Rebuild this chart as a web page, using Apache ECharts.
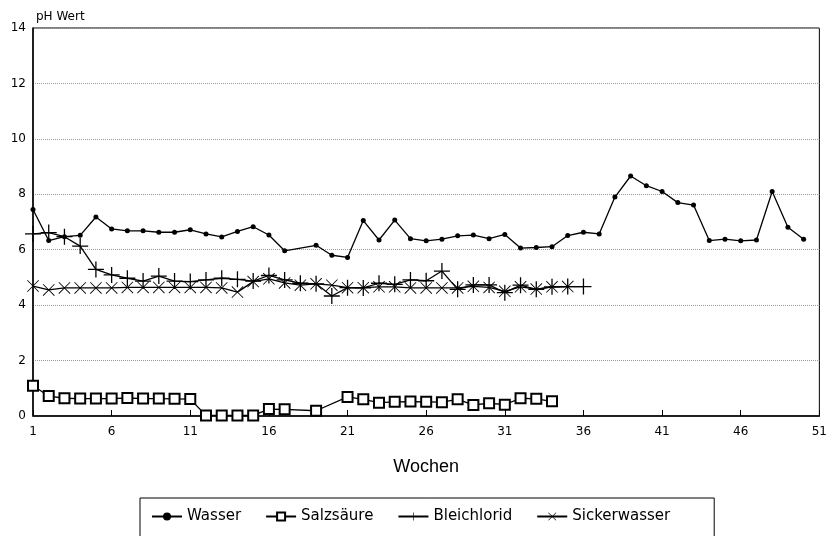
<!DOCTYPE html>
<html>
<head>
<meta charset="utf-8">
<script src="https://cdn.jsdelivr.net/npm/echarts@6.0.0/dist/echarts.min.js"></script>
<style>
html, body { margin: 0; padding: 0; background: #fff; }
#chart { width: 830px; height: 536px; }
</style>
</head>
<body>
<div id="chart"></div>
<script>
'use strict';
// Wochen / pH-Werte je Versuchsreihe
var wasserWochen = [1,2,3,4,5,6,7,8,9,10,11,12,13,14,15,16,17,19,20,21,22,23,24,25,26,27,28,29,30,31,32,33,34,35,36,37,38,39,40,41,42,43,44,45,46,47,48,49,50];
var wasserPh = [7.45,6.33,6.47,6.52,7.18,6.75,6.68,6.68,6.63,6.63,6.72,6.57,6.46,6.66,6.83,6.53,5.96,6.16,5.80,5.72,7.05,6.35,7.07,6.40,6.32,6.38,6.50,6.53,6.40,6.55,6.06,6.08,6.11,6.51,6.63,6.57,7.90,8.66,8.31,8.10,7.70,7.61,6.33,6.38,6.32,6.35,8.10,6.81,6.38];

var salzWochen = [1,2,3,4,5,6,7,8,9,10,11,12,13,14,15,16,17,19,21,22,23,24,25,26,27,28,29,30,31,32,33,34];
var salzPh = [1.09,0.72,0.64,0.63,0.63,0.63,0.65,0.63,0.63,0.62,0.61,0.02,0.02,0.02,0.02,0.25,0.24,0.19,0.69,0.60,0.48,0.51,0.52,0.51,0.50,0.60,0.40,0.46,0.41,0.64,0.62,0.53];

var bleichWochen = [1,2,3,4,5,6,7,8,9,10,11,12,13,14,15,16,17,18,19,20,21,22,23,24,25,26,27,28,29,30,31,32,33,34,35,36];
var bleichPh = [6.57,6.62,6.47,6.13,5.29,5.09,4.97,4.87,5.05,4.87,4.85,4.91,4.97,4.93,4.87,5.07,4.91,4.79,4.77,4.33,4.63,4.62,4.79,4.75,4.91,4.88,5.23,4.57,4.73,4.73,4.45,4.72,4.57,4.66,4.67,4.67];

var sickerWochen = [1,2,3,4,5,6,7,8,9,10,11,12,13,14,15,16,17,18,19,20,21,22,23,24,25,26,27,28,29,30,31,32,33,34,35];
var sickerPh = [4.69,4.55,4.62,4.62,4.62,4.62,4.64,4.64,4.64,4.64,4.64,4.64,4.62,4.47,4.85,4.95,4.80,4.72,4.77,4.72,4.63,4.63,4.66,4.66,4.62,4.62,4.62,4.62,4.68,4.64,4.50,4.66,4.58,4.66,4.67];

var seriesNamen = ['Wasser', 'Salzsäure', 'Bleichlorid', 'Sickerwasser'];

function paare(wochen, werte) {
	return wochen.map(function (w, i) { return [w, werte[i]]; });
}

var plusSymbol = 'path://M9.2,0h1.6v9.2h9.2v1.6h-9.2v9.2h-1.6v-9.2h-9.2v-1.6h9.2z';
var kreuzSymbol = 'path://M0,1L1,0L20,19L19,20Z M19,0L20,1L1,20L0,19Z';

var schrift = 'DejaVu Sans';

var myChart = echarts.init(document.getElementById('chart'));
var option = {
	animation: false,
	backgroundColor: '#fff',
	title: {
		text: 'pH Wert',
		left: 31,
		top: 6,
		textStyle: {fontFamily: schrift, fontSize: 12, fontWeight: 'normal', color: '#000'}
	},
	grid: {
		left: 33,
		right: 8,
		top: 28,
		bottom: 120,
		show: true,
		borderColor: '#000',
		borderWidth: 1
	},
	legend: {
		data: seriesNamen,
		left: 140,
		top: 498,
		padding: [11, 44, 20, 11],
		itemGap: 24,
		itemWidth: 30,
		itemHeight: 10,
		borderColor: '#000',
		borderWidth: 1,
		borderRadius: 0,
		textStyle: {fontFamily: schrift, fontSize: 15, color: '#000'}
	},
	xAxis: {
		type: 'value',
		min: 1,
		max: 51,
		interval: 5,
		name: 'Wochen',
		nameLocation: 'middle',
		nameGap: 42,
		nameTextStyle: {fontFamily: 'Liberation Sans', fontSize: 18, color: '#000'},
		axisLine: {lineStyle: {color: '#000', width: 1.5}},
		axisTick: {show: true, inside: true, length: 6, lineStyle: {color: '#000'}},
		axisLabel: {fontFamily: schrift, fontSize: 12, color: '#000', margin: 10},
		splitLine: {show: false}
	},
	yAxis: {
		type: 'value',
		min: 0,
		max: 14,
		interval: 2,
		axisLine: {show: true, lineStyle: {color: '#000', width: 1.5}},
		axisTick: {show: false},
		axisLabel: {fontFamily: schrift, fontSize: 12, color: '#000', margin: 7},
		splitLine: {show: true, lineStyle: {color: '#999', type: 'dotted', width: 1}}
	},
	series: [
		{
			name: 'Wasser',
			type: 'line',
			data: paare(wasserWochen, wasserPh),
			symbol: 'circle',
			symbolSize: 5,
			lineStyle: {color: '#000', width: 1.3},
			itemStyle: {color: '#000'}
		},
		{
			name: 'Salzsäure',
			type: 'line',
			data: paare(salzWochen, salzPh),
			symbol: 'emptyRect',
			symbolSize: 10,
			lineStyle: {color: '#000', width: 1.3},
			itemStyle: {color: '#000', borderWidth: 1.4}
		},
		{
			name: 'Bleichlorid',
			type: 'line',
			data: paare(bleichWochen, bleichPh),
			symbol: plusSymbol,
			symbolSize: 16,
			lineStyle: {color: '#000', width: 1.3},
			itemStyle: {color: '#000'}
		},
		{
			name: 'Sickerwasser',
			type: 'line',
			data: paare(sickerWochen, sickerPh),
			symbol: kreuzSymbol,
			symbolSize: 12,
			lineStyle: {color: '#000', width: 1.3},
			itemStyle: {color: '#000'}
		}
	]
};
myChart.setOption(option);
</script>
</body>
</html>
